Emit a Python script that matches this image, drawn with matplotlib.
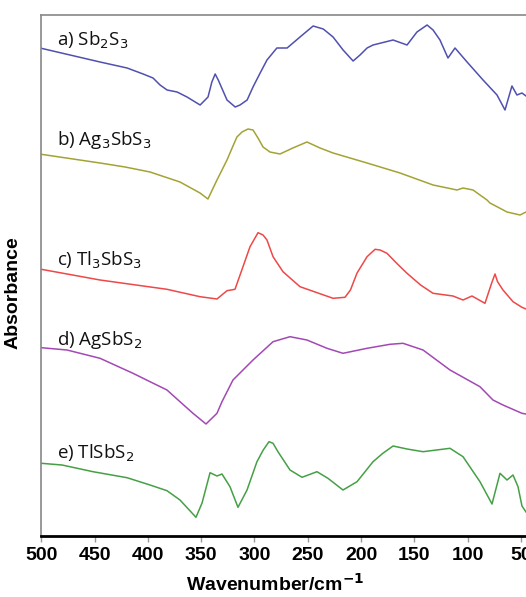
import matplotlib
matplotlib.use("Agg")
import matplotlib.pyplot as plt

# Wavenumbers (cm^-1) and offset absorbance values (arbitrary units, stacked)
wn_a = [500, 444.9, 419.5, 404.5, 395.2, 388.6, 382, 372.6, 363.3, 351, 343.6, 340, 336.9, 334,
        325.8, 318.1, 313.6, 306.9, 301.4, 294.7, 288.3, 279, 269.4, 257.3, 245, 235.5,
        226.3, 216.9, 207.5, 201, 194.4, 188.8, 170, 156.9, 147.6, 138.1, 132.5, 126, 123.1,
        118.5, 111.9, 100.6, 85.6, 72.5, 65, 58.5, 53.8, 49.1, 45.3]
ab_a = [487.7, 474, 468, 462, 458, 451, 446, 444, 439, 431, 439, 454, 462, 456,
        436, 429, 431, 436, 449, 463, 476, 488, 488, 499, 510, 507,
        499, 486, 475, 481, 488, 491, 496, 491, 504, 511, 506, 496, 489,
        478, 488, 474, 456, 441, 426, 450, 441, 443, 440]

wn_b = [500, 444.9, 421.4, 398, 369.9, 351.1, 343.7, 335.2, 325.8, 321, 316.5, 311.7, 306.1,
        301.4, 296.7, 292, 285.5, 276.1, 264, 250.8, 238.5, 226.3, 194.4, 163.5, 132.5, 110,
        104.4, 95, 81.9, 79.1, 63.1, 50.9, 45.3]
ab_b = [381.7, 373, 369, 364, 354, 343, 337, 356, 376, 388, 399, 404, 407,
        406, 398, 389, 384, 382, 388, 394, 388, 383, 373, 363, 351, 346,
        348, 346, 336, 333, 324, 321, 324]

wn_c = [500, 444.9, 382.1, 351.1, 335.2, 325.8, 318.3, 310.8, 304.2, 296.7, 292, 288.3, 282.6,
        273.3, 257.3, 226.3, 215.1, 210, 203.8, 194.4, 186.9, 182.2, 175.7, 166.6, 156.9, 144.2,
        132.5, 113.8, 104.4, 96, 83.8, 77.6, 74.4, 72, 66.9, 57.5, 49.1, 45.3]
ab_c = [266.7, 256, 246.7, 239.3, 237, 245.3, 246.7, 269.3, 289.3, 303.3, 301, 296, 279.3,
        264.3, 249.3, 237.7, 238.7, 246, 263, 279.3, 286.7, 286, 282.7, 272.7, 262.7, 251,
        242.7, 240, 236, 240, 232.7, 252.7, 262, 254.3, 246, 234.3, 228.7, 227]

wn_d = [500, 475.9, 444.9, 414, 398, 382.1, 369.9, 357.7, 345.5, 335.2, 330.5, 320.2, 301.4,
        282.6, 266.7, 250.8, 232, 217, 194.4, 172.9, 160.7, 141.9, 116.6, 88.5, 76.3, 66.9,
        49.1, 45.3]
ab_d = [188.3, 186, 177.7, 162.7, 154.3, 146, 134.3, 122.7, 112, 122.7, 134.3, 156, 176,
        194.3, 199.3, 196, 187.7, 182.7, 187.7, 191.7, 192.7, 186, 166, 149.3, 136, 131,
        122.7, 122]

wn_e = [500, 480.6, 451.5, 419.6, 398, 382.1, 369.9, 354.9, 349.2, 341.7, 335.2, 330.5, 323,
        315.5, 307, 297.7, 291.8, 286.4, 282.6, 278, 266.7, 255.4, 241.4, 231.1, 217, 203.8,
        188.8, 179.6, 170, 156.9, 141.9, 116.6, 104.4, 88.5, 77.2, 69.7, 63.1, 57.5, 52.8,
        49.1, 45.3]
ab_e = [72.7, 71, 64.3, 58.3, 51, 45.3, 36, 18.7, 33, 63.3, 60, 62, 49.3,
        28.7, 46, 74.3, 86, 94.3, 92.7, 84.3, 66, 58.7, 64.3, 57.7, 46, 54.3,
        74.3, 82.7, 90, 87, 84.3, 87.7, 79.3, 54.3, 32, 62.7, 56, 61, 49.3,
        30, 24]

labels = ["a) Sb$_2$S$_3$", "b) Ag$_3$SbS$_3$", "c) Tl$_3$SbS$_3$", "d) AgSbS$_2$", "e) TlSbS$_2$"]
label_y = [496, 396, 276, 196, 83]
colors = ["#5050b0", "#a3a335", "#ee4848", "#a348b5", "#45a045"]
xticks = [500, 450, 400, 350, 300, 250, 200, 150, 100, 50]

series = [(wn_a, ab_a), (wn_b, ab_b), (wn_c, ab_c), (wn_d, ab_d), (wn_e, ab_e)]

fig = plt.figure(figsize=(5.26, 5.97), dpi=100)
ax = fig.add_axes([41.3 / 526, 61 / 597, 470 * 1.066 / 526, 521 / 597])

for (wn, ab), c in zip(series, colors):
    ax.plot(wn, ab, color=c, lw=1.1, solid_joinstyle="round")

for lab, ly in zip(labels, label_y):
    ax.text(485.3, ly, lab, fontsize=13.5, family="Open Sans", va="center", ha="left",
            color="#111111")

ax.set_xlim(500, 30)
ax.set_ylim(0, 521)
ax.set_xticks(xticks)
ax.set_xticklabels([str(t) for t in xticks], fontsize=14, fontweight="bold",
                   family="Liberation Sans")
ax.set_yticks([])
ax.tick_params(axis="x", direction="out", length=4, width=1, color="#999999", pad=4)

for s in ["left", "top", "right"]:
    ax.spines[s].set_color("#888888")
    ax.spines[s].set_linewidth(1.2)
ax.spines["bottom"].set_color("black")
ax.spines["bottom"].set_linewidth(2)

ax.set_xlabel("Wavenumber/cm$^{\\mathbf{-1}}$", fontsize=14, fontweight="bold",
              family="Liberation Sans")
ax.xaxis.set_label_coords((275 - 41.3) / 501, -0.07)
ax.set_ylabel("Absorbance", fontsize=14, fontweight="bold", family="Liberation Sans")
ax.yaxis.set_label_coords(-0.04, 0.468)

fig.savefig("out.png", dpi=100)
